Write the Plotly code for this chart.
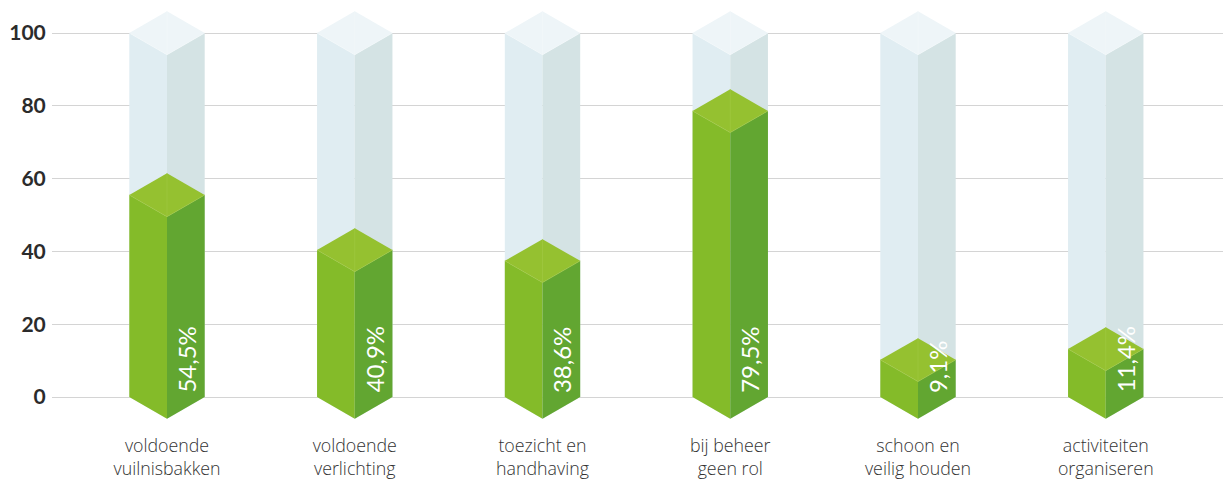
import plotly.graph_objects as go

categories = ["voldoende<br>vuilnisbakken", "voldoende<br>verlichting", "toezicht en<br>handhaving",
              "bij beheer<br>geen rol", "schoon en<br>veilig houden", "activiteiten<br>organiseren"]
bar_heights = [55.5, 40.4, 37.4, 78.6, 10.2, 13.2]
value_labels = ["54,5%", "40,9%", "38,6%", "79,5%", "9,1%", "11,4%"]
track_height = 100
y_ticks = [0, 20, 40, 60, 80, 100]

half_w = 0.2008
depth = 5.96
pos = list(range(len(categories)))

TRACK = ("#e0edf2", "#d4e3e4", "#eef5f8", "#f3f8fa")
GREEN = ("#84bb29", "#62a631", "#95c130", "#a3ca45")


def poly(xs, ys, color):
    return go.Scatter(x=xs + xs[:1], y=ys + ys[:1], mode="lines", fill="toself", fillcolor=color,
                      line=dict(width=0), hoverinfo="skip", showlegend=False)


def prism(fig, x, v, cols):
    left, right, top, edge = cols
    fig.add_trace(poly([x - half_w, x, x, x - half_w], [0, -depth, v - depth, v], left))
    fig.add_trace(poly([x, x + half_w, x + half_w, x], [-depth, 0, v, v - depth], right))
    fig.add_trace(poly([x - half_w, x, x + half_w, x], [v, v + depth, v, v - depth], top))
    fig.add_trace(go.Scatter(x=[x - half_w, x, x + half_w, None, x, x],
                             y=[v, v - depth, v, None, v - depth, v + depth], mode="lines",
                             line=dict(color=edge, width=0.6), hoverinfo="skip", showlegend=False))


fig = go.Figure()
for x, v in zip(pos, bar_heights):
    prism(fig, x, track_height, TRACK)
    prism(fig, x, v, GREEN)

for x, lab in zip(pos, value_labels):
    fig.add_annotation(x=x + half_w / 2 + 0.005, y=0.6, text=lab, textangle=-90, showarrow=False,
                       xanchor="center", yanchor="bottom",
                       font=dict(family="Lato", size=24, color="white", weight=400))

fig.update_layout(
    width=1223, height=479, margin=dict(l=52, r=0, t=0, b=59),
    paper_bgcolor="white", plot_bgcolor="white", showlegend=False,
    xaxis=dict(range=[-0.6125, 5.6245], tickmode="array", tickvals=pos, ticktext=categories,
               automargin=False,
               showgrid=False, zeroline=False, showline=False, ticks="outside", ticklen=10,
               tickcolor="rgba(0,0,0,0)",
               tickfont=dict(family="Open Sans", size=17.8, color="#333333", weight=300)),
    yaxis=dict(range=[-6.32, 109.07], tickmode="array", tickvals=y_ticks, showgrid=True,
               automargin=False,
               gridcolor="#d4d4d4", gridwidth=1, zeroline=False, showline=False,
               ticks="outside", ticklen=1, tickcolor="rgba(0,0,0,0)",
               tickfont=dict(family="Lato", size=21, color="#2b2b2b", weight="bold")),
)
fig.write_html("out.html", post_script="document.body.style.margin='0';",
               config={"displayModeBar": False})
